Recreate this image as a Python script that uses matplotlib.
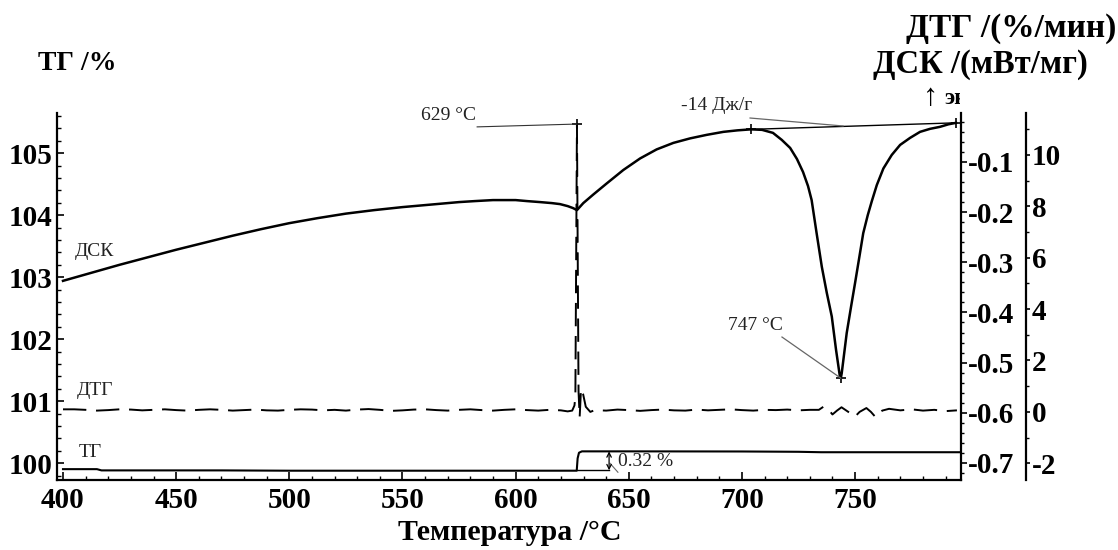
import matplotlib
matplotlib.use("Agg")
import matplotlib.pyplot as plt
from matplotlib.ticker import MultipleLocator, FixedLocator
from matplotlib.transforms import Bbox, TransformedBbox
import numpy as np

plt.rcParams['font.family'] = ['Liberation Serif', 'DejaVu Serif']

# ---------------- data ----------------
dsc_T = [400, 412.5, 425, 437.5, 450, 462.5, 475, 487.5, 500, 512.5, 525, 537.5, 550,
         562.5, 575, 582, 590, 600, 605, 610.8, 616, 619.6, 623, 625.4, 627.1,
         629.9, 634.3, 640.2, 647.6, 655, 662.3, 669.7, 677.1, 684.4, 691.8, 698, 704,
         708.9, 713.7, 717.6, 721.3, 724.3, 727.0, 729.2, 730.8, 733.0, 735.3, 737.5,
         739.7, 741.6, 743.3, 743.7, 744.1, 746.3, 748.2, 750.0, 751.9, 753.6, 755.6,
         757.4, 759.6, 762.5, 766.2, 769.9, 774.3, 778.7, 783.1, 787.5, 791.2, 794.6]
dsc = [-0.337, -0.321, -0.305, -0.290, -0.275, -0.261, -0.247, -0.234, -0.222, -0.212,
       -0.203, -0.196, -0.190, -0.185, -0.180, -0.178, -0.176, -0.176, -0.178, -0.180,
       -0.182, -0.184, -0.188, -0.192, -0.196,
       -0.182, -0.165, -0.143, -0.116, -0.093, -0.075, -0.062, -0.053, -0.046, -0.040,
       -0.037, -0.035,
       -0.036, -0.042, -0.056, -0.072, -0.094, -0.120, -0.148, -0.176, -0.242, -0.309,
       -0.361, -0.408, -0.475, -0.528, -0.531, -0.521, -0.441, -0.389, -0.341, -0.289,
       -0.242, -0.206, -0.178, -0.146, -0.113, -0.086, -0.066, -0.052, -0.040, -0.034,
       -0.030, -0.025, -0.022]

tg_T = [400, 415, 417, 470, 500, 600, 627.0, 627.4, 628.0, 629.3, 650, 700, 725, 735, 760, 797]
tg = [99.905, 99.905, 99.885, 99.885, 99.88, 99.88, 99.88, 100.08, 100.17, 100.192,
      100.192, 100.19, 100.185, 100.178, 100.178, 100.178]

dtg_T = [400, 405, 410, 415, 420, 425, 430, 435, 440, 445, 450, 455, 460, 465, 470, 475,
         480, 485, 490, 495, 500, 505, 510, 515, 520, 525, 530, 535, 540, 545, 550, 555,
         560, 565, 570, 575, 580, 585, 590, 595, 600, 605, 610, 615, 620, 623, 625, 626,
         626.4, 627.1, 627.8, 628.3, 628.9, 629.8, 631, 633, 635, 640, 645, 650, 655, 660,
         665, 670, 675, 680, 685, 690, 695, 700, 705, 710, 715, 720, 725, 730, 734, 736,
         738, 740, 742, 744, 747, 750, 752, 755, 757, 759, 762, 765, 770, 775, 780, 785,
         790, 795]
dtg = [0.10, 0.10, 0.08, 0.05, 0.07, 0.10, 0.09, 0.06, 0.08, 0.10, 0.07, 0.05, 0.08,
       0.10, 0.08, 0.05, 0.07, 0.09, 0.06, 0.05, 0.08, 0.10, 0.09, 0.06, 0.08, 0.05,
       0.09, 0.11, 0.08, 0.04, 0.06, 0.09, 0.10, 0.07, 0.05, 0.08, 0.10, 0.07, 0.05,
       0.08, 0.10, 0.07, 0.05, 0.08, 0.06, 0.02, 0.05, 0.25, 0.6, 11.2, 0.8, -0.2, 0.9,
       0.7, 0.2, 0.0, 0.07, 0.05, 0.09, 0.07, 0.04, 0.07, 0.09, 0.06, 0.05, 0.09, 0.06,
       0.08, 0.10, 0.07, 0.05, 0.08, 0.07, 0.09, 0.06, 0.08, 0.08, 0.20, 0.12, -0.10,
       0.05, 0.18, 0.0, -0.18, 0.0, 0.15, 0.0, -0.20, 0.05, 0.12, 0.06, 0.10, 0.05, 0.08,
       0.03, 0.06]

x_ticks = [400, 450, 500, 550, 600, 650, 700, 750]
tg_ticks = [100, 101, 102, 103, 104, 105]
dsc_ticks = [-0.7, -0.6, -0.5, -0.4, -0.3, -0.2, -0.1]
dtg_ticks = [-2, 0, 2, 4, 6, 8, 10]

# --------------- figure ---------------
W, H = 1118, 550
fig = plt.figure(figsize=(W / 100, H / 100), dpi=100)
L, R, B, T = 57 / W, 961 / W, (H - 480) / H, (H - 113) / H
ax = fig.add_axes([L, B, R - L, T - B])
ax2 = ax.twinx()
ax3 = ax.twinx()
ax3.spines['right'].set_position(('axes', (1026 - 57) / (961 - 57)))

ax.set_xlim(397.35, 796.8)
ax.set_ylim(99.73, 105.65)
ax2.set_ylim(-0.734, -0.0024)
ax3.set_ylim(-2.65, 11.63)

for a in (ax, ax2, ax3):
    a.spines['top'].set_visible(False)
    for s in a.spines.values():
        s.set_linewidth(1.6)
ax2.spines['left'].set_visible(False)
ax3.spines['left'].set_visible(False)
ax.spines['right'].set_visible(False)
ax3.spines['bottom'].set_visible(False)
ax2.spines['bottom'].set_visible(False)

tkfont = dict(fontsize=21, fontweight='bold')
ax.xaxis.set_major_locator(FixedLocator(x_ticks))
ax.xaxis.set_minor_locator(MultipleLocator(10))
ax.yaxis.set_major_locator(FixedLocator(tg_ticks))
ax.yaxis.set_minor_locator(MultipleLocator(0.2))
ax2.yaxis.set_major_locator(FixedLocator(dsc_ticks))
ax2.yaxis.set_minor_locator(MultipleLocator(0.02))
ax3.yaxis.set_major_locator(FixedLocator(dtg_ticks))
ax3.yaxis.set_minor_locator(MultipleLocator(1))

ax.set_xticklabels([str(v) for v in x_ticks], **tkfont)
ax.set_yticklabels([str(v) for v in tg_ticks], **tkfont)
ax2.set_yticklabels([f"{v:.1f}" for v in dsc_ticks], **tkfont)
ax3.set_yticklabels([str(v) for v in dtg_ticks], **tkfont)

ax.tick_params(axis='x', which='major', direction='in', length=6, width=1.2, pad=5)
ax.tick_params(axis='x', which='minor', direction='in', length=3, width=1)
ax.tick_params(axis='y', which='major', direction='in', length=5, width=1.2, pad=3)
ax.tick_params(axis='y', which='minor', direction='in', length=3, width=1)
ax2.tick_params(axis='y', which='major', direction='out', length=4, width=1.2, pad=1)
ax2.tick_params(axis='y', which='minor', direction='out', length=2.5, width=1)
ax3.tick_params(axis='y', which='major', direction='out', length=3, width=1.2, pad=1)
ax3.tick_params(axis='y', which='minor', direction='out', length=2.5, width=1)

# --------------- curves ---------------
ax.plot(tg_T, tg, color='black', lw=1.5)
ax2.plot(dsc_T, dsc, color='black', lw=1.8)
ax3.plot(dtg_T, dtg, color='black', lw=1.4, linestyle=(0, (12, 5)))

# --------------- annotations ---------------
ann = dict(fontsize=14, color='#222222')
ax.text(405, 103.35, 'ДСК', **ann)
ax.text(406, 101.10, 'ДТГ', **ann)
ax.text(407, 100.1, 'ТГ', **ann)

# 629 °C peak of DTG
i_pk = int(np.argmax(dtg))
ax3.plot([dtg_T[i_pk]], [dtg[i_pk]], marker='+', color='black', ms=7, mew=1.2)
ax3.plot([583.0, dtg_T[i_pk]], [11.09, dtg[i_pk]], color='#333333', lw=0.8)
ax3.text(582.5, 11.52, '629 °C', ha='right', va='center', **ann)

# 747 °C DSC minimum
i_mn = int(np.argmin(dsc))
ax2.plot([dsc_T[i_mn]], [dsc[i_mn]], marker='+', color='black', ms=7, mew=1.2)
ax2.plot([717.7, dsc_T[i_mn]], [-0.449, dsc[i_mn]], color='#666666', lw=0.9)
ax2.text(705.8, -0.427, '747 °C', ha='center', va='center', **ann)

# -14 J/g integration baseline
i_a, i_b = dsc_T.index(704), len(dsc_T) - 1
ax2.plot([dsc_T[i_a], dsc_T[i_b]], [dsc[i_a], dsc[i_b]], color='black', lw=1.0)
ax2.plot([dsc_T[i_a], dsc_T[i_b]], [dsc[i_a], dsc[i_b]], ls='none', marker='+',
         color='black', ms=7, mew=1.2)
ax2.plot([703.6, 744.7], [-0.0124, -0.0283], color='#666666', lw=0.9)
ax2.text(689, 0.0116, '-14 Дж/г', ha='center', va='center', **ann)

# 0.32 % mass step
lo, hi = 99.887, 100.192
ax.plot([627.0, 641.3], [lo, lo], color='black', lw=1.0)
ax.annotate('', xy=(641.3, hi), xytext=(641.3, lo),
            arrowprops=dict(arrowstyle='<->', color='black', lw=0.9,
                            mutation_scale=8, shrinkA=0, shrinkB=0))
ax.plot([641.7, 645.2], [100.0, 99.855], color='#666666', lw=0.8)
ax.text(645.2, 100.03, '0.32 %', ha='left', va='center', **ann)

# --------------- axis titles ---------------
fig.text(38 / W, 1 - 63 / H, 'ТГ /%', ha='left', va='center', fontsize=20, fontweight='bold')
fig.text(1088 / W, 1 - 64 / H, 'ДСК /(мВт/мг)', ha='right', va='center',
         fontsize=23.5, fontweight='bold')
fig.text(1116 / W, 1 - 28 / H, 'ДТГ /(%/мин)', ha='right', va='center',
         fontsize=24, fontweight='bold')
fig.text(510 / W, 1 - 533 / H, 'Температура /°C', ha='center', va='center',
         fontsize=21.5, fontweight='bold')

fig.text(931 / W, 1 - 97 / H, '↑', ha='center', va='center', fontsize=22)
t_exo = fig.text(944 / W, 1 - 99 / H, 'экзо', ha='left', va='center',
                 fontsize=17, fontweight='bold')
t_exo.set_clip_box(TransformedBbox(Bbox.from_extents(0, 0, 960 / W, 1), fig.transFigure))
t_exo.set_clip_on(True)

fig.savefig('out.png', dpi=100)
